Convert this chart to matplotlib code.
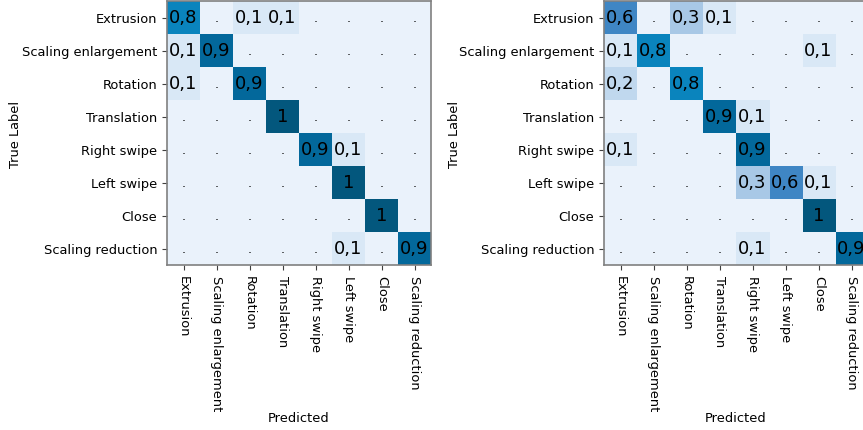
import numpy as np
import matplotlib
matplotlib.use('Agg')
import matplotlib.pyplot as plt
from matplotlib.colors import LinearSegmentedColormap

classes = ['Extrusion', 'Scaling enlargement', 'Rotation', 'Translation',
           'Right swipe', 'Left swipe', 'Close', 'Scaling reduction']

# 左圖混淆矩陣
cm_left = np.array([
    [0.8, 0.0, 0.1, 0.1, 0.0, 0.0, 0.0, 0.0],
    [0.1, 0.9, 0.0, 0.0, 0.0, 0.0, 0.0, 0.0],
    [0.1, 0.0, 0.9, 0.0, 0.0, 0.0, 0.0, 0.0],
    [0.0, 0.0, 0.0, 1.0, 0.0, 0.0, 0.0, 0.0],
    [0.0, 0.0, 0.0, 0.0, 0.9, 0.1, 0.0, 0.0],
    [0.0, 0.0, 0.0, 0.0, 0.0, 1.0, 0.0, 0.0],
    [0.0, 0.0, 0.0, 0.0, 0.0, 0.0, 1.0, 0.0],
    [0.0, 0.0, 0.0, 0.0, 0.0, 0.1, 0.0, 0.9],
])

# 右圖混淆矩陣
cm_right = np.array([
    [0.6, 0.0, 0.3, 0.1, 0.0, 0.0, 0.0, 0.0],
    [0.1, 0.8, 0.0, 0.0, 0.0, 0.0, 0.1, 0.0],
    [0.2, 0.0, 0.8, 0.0, 0.0, 0.0, 0.0, 0.0],
    [0.0, 0.0, 0.0, 0.9, 0.1, 0.0, 0.0, 0.0],
    [0.1, 0.0, 0.0, 0.0, 0.9, 0.0, 0.0, 0.0],
    [0.0, 0.0, 0.0, 0.0, 0.3, 0.6, 0.1, 0.0],
    [0.0, 0.0, 0.0, 0.0, 0.0, 0.0, 1.0, 0.0],
    [0.0, 0.0, 0.0, 0.0, 0.1, 0.0, 0.0, 0.9],
])

# 色階: 淺藍 -> 深藍
cmap = LinearSegmentedColormap.from_list('cm_blue', [
    (0.0, '#eaf2fb'), (0.1, '#d9e8f6'), (0.3, '#a8c8e6'),
    (0.6, '#3f86c4'), (0.8, '#0a84bd'), (0.9, '#04699c'), (1.0, '#03577d')])


def fmt(v):
    if v == 0:
        return '.'
    if v == 1:
        return '1'
    return f'{v:.1f}'.replace('.', ',')


def draw_cm(ax, cm):
    ax.imshow(cm, cmap=cmap, vmin=0, vmax=1, interpolation='nearest', aspect='auto')
    n = len(classes)
    for i in range(n):
        for j in range(n):
            v = cm[i, j]
            ax.text(j, i, fmt(v), ha='center', va='center', color='black',
                    fontsize=13 if v > 0 else 9)
    ax.set_xticks(range(n))
    ax.set_yticks(range(n))
    ax.set_xticklabels(classes, rotation=270, fontsize=9.4)
    ax.set_yticklabels(classes, fontsize=9.4)
    ax.set_xlabel('Predicted', fontsize=9.4)
    ax.set_ylabel('True Label', fontsize=9.4)
    for s in ax.spines.values():
        s.set_color('#808080')
        s.set_linewidth(1.2)
    ax.tick_params(color='#404040')


fig = plt.figure(figsize=(8.63, 4.31), dpi=100)
ax1 = fig.add_axes([167 / 863, 165 / 431, 264 / 863, 264 / 431])
ax2 = fig.add_axes([604 / 863, 165 / 431, 264 / 863, 264 / 431])
draw_cm(ax1, cm_left)
draw_cm(ax2, cm_right)
ax1.xaxis.set_label_coords(0.5, -0.553)
ax2.xaxis.set_label_coords(0.5, -0.553)
ax1.yaxis.set_label_coords(-0.549, 0.5)
ax2.yaxis.set_label_coords(-0.542, 0.5)

plt.savefig('out.png', dpi=100)
